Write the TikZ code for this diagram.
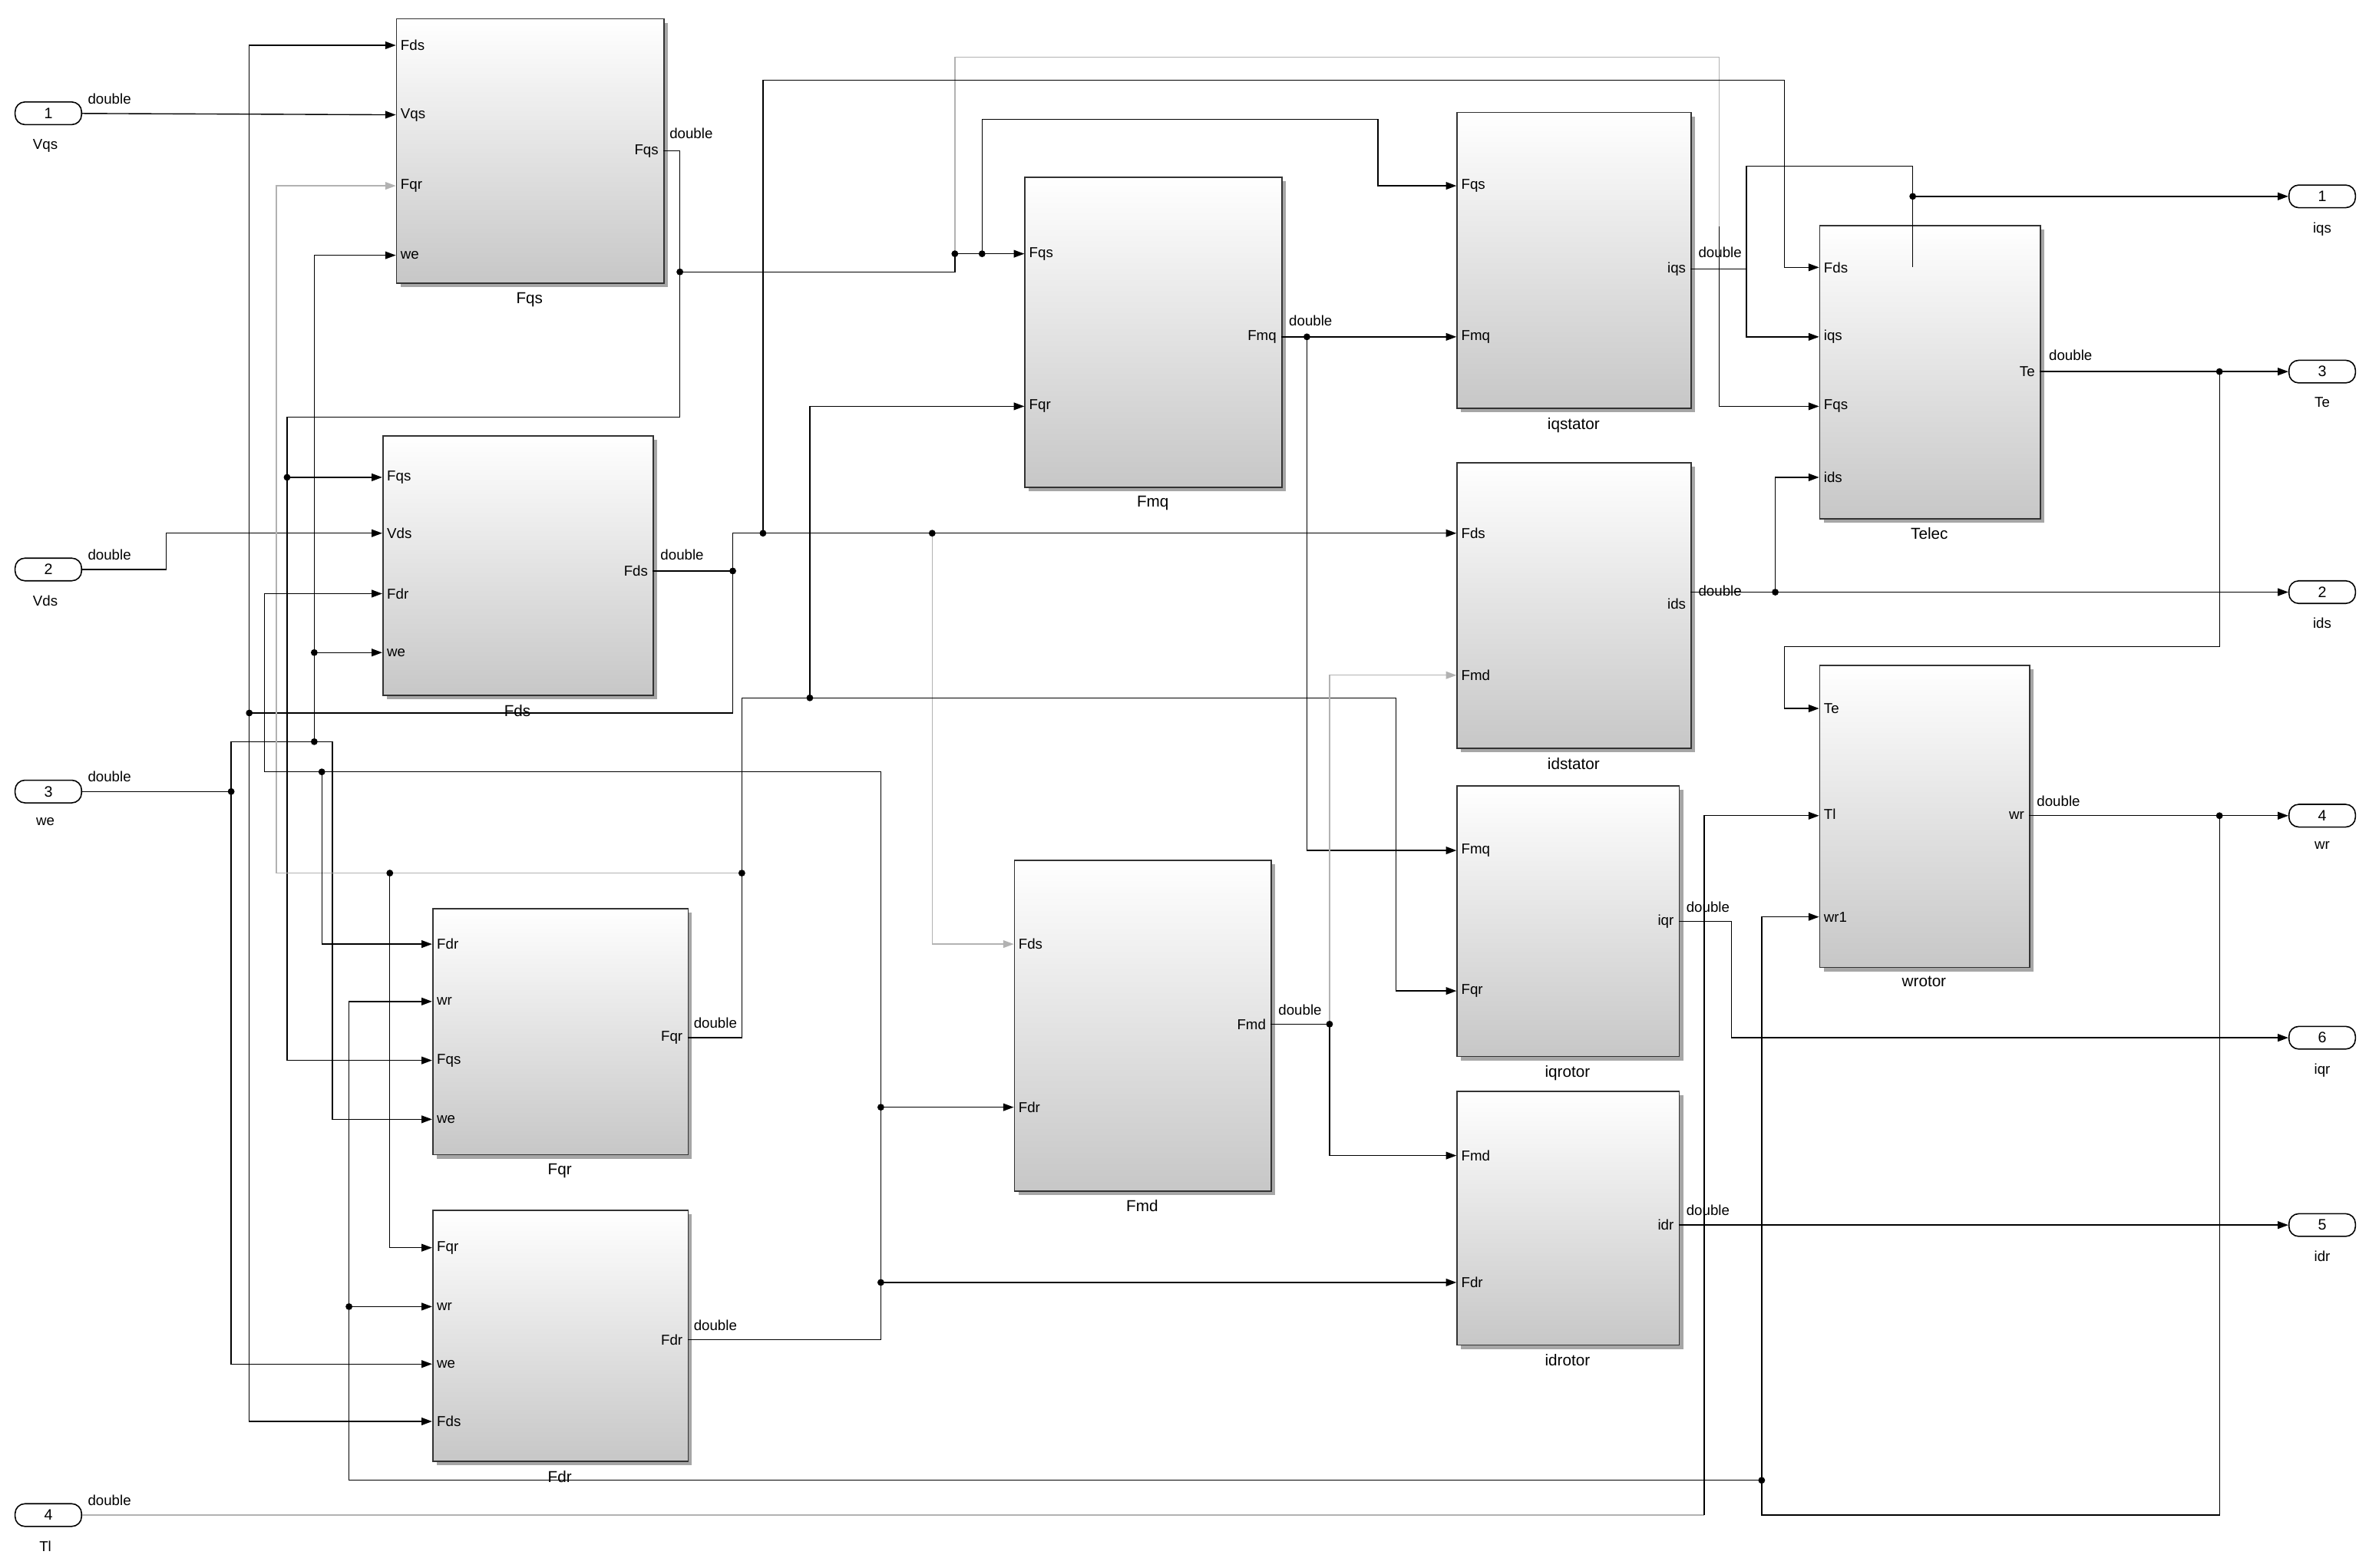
\documentclass[tikz,border=0pt]{standalone}
\usepackage{fontspec}
\setmainfont{Liberation Sans}
\usetikzlibrary{arrows.meta,shapes.geometric}
\begin{document}
\begin{tikzpicture}[x=1pt,y=-1pt,
 blk/.style={draw=black!80,line width=0.9pt,top color=white,bottom color=black!22,anchor=north west,inner sep=0},
 pl/.style={font=\fontsize{9.5}{10}\selectfont,inner sep=1pt},
 bn/.style={font=\fontsize{10.5}{11}\selectfont},
 dl/.style={font=\fontsize{9.5}{10}\selectfont,anchor=south west,inner sep=1pt},
 w/.style={line width=0.7pt,-{Triangle[length=7pt,width=5pt]}},
 wn/.style={line width=0.7pt},
 g/.style={black!30},
 dt/.style={circle,fill=black,inner sep=0,minimum size=4.5pt},
 io/.style={draw,line width=0.8pt,rounded corners=6.5pt,minimum width=44pt,minimum height=15pt,inner sep=0,font=\fontsize{10}{10}\selectfont,fill=white}]
\useasboundingbox (0,0) rectangle (1568,1038);
% blocks
\newcommand{\blkx}[6]{\fill[black!35] (#2+3,#3+3) rectangle (#4+3,#5+3);
 \node[blk,minimum width=#4-#2 pt,minimum height=#5-#3 pt] (#1) at (#2,#3) {};
 \node[bn,anchor=north] at ({(#2+#4)/2},#5+3) {#6};}
\blkx{Fqs}{262}{12}{439}{187}{Fqs}
\blkx{Fds}{253}{288}{432}{460}{Fds}
\blkx{Fqr}{286}{601}{455}{764}{Fqr}
\blkx{Fdr}{286}{801}{455}{967}{Fdr}
\blkx{Fmq}{678}{117}{848}{322}{Fmq}
\blkx{Fmd}{671}{569}{841}{788}{Fmd}
\blkx{iqst}{964}{74}{1119}{270}{iqstator}
\blkx{idst}{964}{306}{1119}{495}{idstator}
\blkx{iqro}{964}{520}{1111}{699}{iqrotor}
\blkx{idro}{964}{722}{1111}{890}{idrotor}
\blkx{Tel}{1204}{149}{1350}{343}{Telec}
\blkx{wro}{1204}{440}{1343}{640}{wrotor}
% port labels
\newcommand{\ip}[3]{\node[pl,anchor=west] at (#1+2,#2) {#3};}
\newcommand{\op}[3]{\node[pl,anchor=east] at (#1-2,#2) {#3};}
\ip{262}{30}{Fds}\ip{262}{76}{Vqs}\ip{262}{123}{Fqr}\ip{262}{169}{we}\op{439}{100}{Fqs}
\ip{253}{316}{Fqs}\ip{253}{353}{Vds}\ip{253}{393}{Fdr}\ip{253}{432}{we}\op{432}{378}{Fds}
\ip{286}{625}{Fdr}\ip{286}{663}{wr}\ip{286}{702}{Fqs}\ip{286}{741}{we}\op{455}{687}{Fqr}
\ip{286}{826}{Fqr}\ip{286}{865}{wr}\ip{286}{903}{we}\ip{286}{941}{Fds}\op{455}{887}{Fdr}
\ip{678}{168}{Fqs}\ip{678}{269}{Fqr}\op{848}{223}{Fmq}
\ip{671}{625}{Fds}\ip{671}{733}{Fdr}\op{841}{678}{Fmd}
\ip{964}{123}{Fqs}\ip{964}{223}{Fmq}\op{1119}{178}{iqs}
\ip{964}{353}{Fds}\ip{964}{447}{Fmd}\op{1119}{400}{ids}
\ip{964}{563}{Fmq}\ip{964}{656}{Fqr}\op{1111}{610}{iqr}
\ip{964}{765}{Fmd}\ip{964}{849}{Fdr}\op{1111}{811}{idr}
\ip{1204}{177}{Fds}\ip{1204}{223}{iqs}\ip{1204}{269}{Fqs}\ip{1204}{316}{ids}\op{1350}{246}{Te}
\ip{1204}{469}{Te}\ip{1204}{539}{Tl}\ip{1204}{607}{wr1}\op{1343}{540}{wr}
% in/out ports
\node[io] (i1) at (32,75) {1}; \node[pl,anchor=north] at (30,91) {Vqs};
\node[io] (i2) at (32,377) {2}; \node[pl,anchor=north] at (30,393) {Vds};
\node[io] (i3) at (32,524) {3}; \node[pl,anchor=north] at (30,540) {we};
\node[io] (i4) at (32,1003) {4}; \node[pl,anchor=north] at (30,1019) {Tl};
\node[io] (o1) at (1537,130) {1}; \node[pl,anchor=north] at (1537,146) {iqs};
\node[io] (o3) at (1537,246) {3}; \node[pl,anchor=north] at (1537,262) {Te};
\node[io] (o2) at (1537,392) {2}; \node[pl,anchor=north] at (1537,408) {ids};
\node[io] (o4) at (1537,540) {4}; \node[pl,anchor=north] at (1537,556) {wr};
\node[io] (o6) at (1537,687) {6}; \node[pl,anchor=north] at (1537,703) {iqr};
\node[io] (o5) at (1537,811) {5}; \node[pl,anchor=north] at (1537,827) {idr};
% double labels
\foreach \x/\y in {57/70,57/372,57/519,57/998,442/93,436/372,458/682,458/882,852/217,845/673,1123/172,1123/396,1115/605,1115/806,1355/240,1347/535}
 \node[dl] at (\x,\y) {double};
% wires
\draw[w] (i1) -- (262,76);
\draw[w] (i2) -- (110,377) -- (110,353) -- (253,353);
\draw[wn] (i3) -- (153,524);
\draw[w] (153,524) -- (153,903) -- (286,903);
\draw[w] (153,524) -- (153,491) -- (220,491) -- (220,741) -- (286,741);
\draw[w] (208,491) -- (208,169) -- (262,169);
\draw[w] (208,432) -- (253,432);
% Fqs out
\draw[w] (439,100) -- (450,100) -- (450,180) -- (632,180) -- (632,168) -- (678,168);
\draw[w] (450,180) -- (450,276) -- (190,276) -- (190,702) -- (286,702);
\draw[w] (190,316) -- (253,316);
\draw[wn,g] (632,168) -- (632,38) -- (1138,38) -- (1138,150);
\draw[w] (1138,150) -- (1138,269) -- (1204,269);
\draw[w] (650,168) -- (650,79) -- (912,79) -- (912,123) -- (964,123);
% Fds out
\draw[w] (432,378) -- (485,378) -- (485,353) -- (964,353);
\draw[wn] (485,378) -- (485,472) -- (165,472);
\draw[w] (165,472) -- (165,941) -- (286,941);
\draw[w] (165,472) -- (165,30) -- (262,30);
\draw[w] (505,353) -- (505,53) -- (1181,53) -- (1181,177) -- (1204,177);
\draw[w,g] (617,353) -- (617,625) -- (671,625);
% Fqr out
\draw[w] (455,687) -- (491,687) -- (491,462) -- (924,462) -- (924,656) -- (964,656);
\draw[w] (536,462) -- (536,269) -- (678,269);
\draw[w,g] (491,578) -- (183,578) -- (183,123) -- (262,123);
\draw[w] (258,578) -- (258,826) -- (286,826);
% Fdr out
\draw[w] (455,887) -- (583,887) -- (583,733) -- (671,733);
\draw[w] (583,849) -- (964,849);
\draw[w] (583,733) -- (583,511) -- (175,511) -- (175,393) -- (253,393);
\draw[w] (213,511) -- (213,625) -- (286,625);
% Fmq, Fmd out
\draw[w] (848,223) -- (964,223);
\draw[w] (865,223) -- (865,563) -- (964,563);
\draw[wn] (841,678) -- (880,678);
\draw[w,g] (880,678) -- (880,447) -- (964,447);
\draw[w] (880,678) -- (880,765) -- (964,765);
% stator/rotor outs
\draw[w] (1119,178) -- (1156,178) -- (1156,223) -- (1204,223);
\draw[w] (1156,178) -- (1156,110) -- (1266,110) -- (1266,130) -- (o1.west);
\draw[wn] (1266,130) -- (1266,177);
\draw[w] (1119,392) -- (o2.west);
\draw[w] (1175,392) -- (1175,316) -- (1204,316);
\draw[w] (1350,246) -- (o3.west);
\draw[w] (1469,246) -- (1469,428) -- (1181,428) -- (1181,469) -- (1204,469);
\draw[w] (1343,540) -- (o4.west);
\draw[w] (1469,540) -- (1469,1003) -- (1166,1003) -- (1166,607) -- (1204,607);
\draw[w] (1166,980) -- (231,980) -- (231,663) -- (286,663);
\draw[w] (231,865) -- (286,865);
\draw[w] (1111,610) -- (1146,610) -- (1146,687) -- (o6.west);
\draw[w] (1111,811) -- (o5.west);
\draw[wn,g] (i4) -- (1128,1003);
\draw[w] (1128,1003) -- (1128,540) -- (1204,540);
% dots
\foreach \x/\y in {153/524,208/491,208/432,450/180,190/316,632/168,650/168,485/378,505/353,617/353,165/472,491/578,258/578,536/462,583/733,583/849,213/511,865/223,880/678,1266/130,1175/392,1469/246,1469/540,1166/980,231/865}
 \node[dt] at (\x,\y) {};
\end{tikzpicture}
\end{document}
